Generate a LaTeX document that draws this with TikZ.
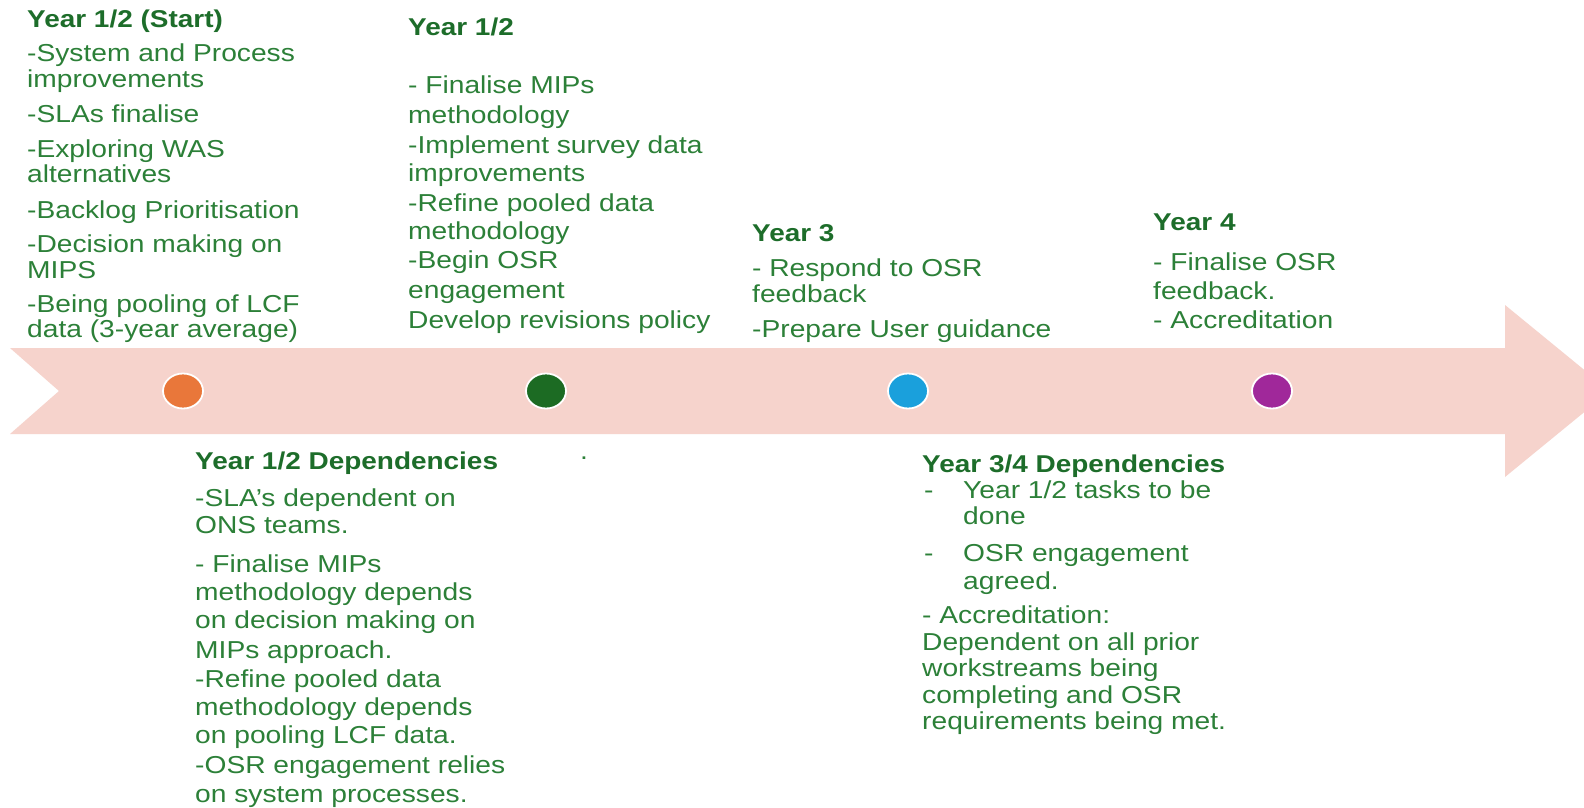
\documentclass[tikz,border=0pt]{standalone}
\usepackage{fontspec}
\usetikzlibrary{shapes.geometric}
\setmainfont[FakeStretch=1.15]{Liberation Sans}
\begin{document}
\definecolor{bandpink}{HTML}{F6D3CC}
\definecolor{txtgreen}{HTML}{2C8038}
\definecolor{hdgreen}{HTML}{1D6D2A}
\definecolor{dotorange}{HTML}{E9773A}
\definecolor{dotgreen}{HTML}{1C6B23}
\definecolor{dotblue}{HTML}{1AA0DC}
\definecolor{dotpurple}{HTML}{A0289A}
\begin{tikzpicture}[x=1pt,y=-1pt,
  hd/.style={anchor=base west,inner sep=0pt,text=hdgreen,font=\fontsize{24.3}{25}\selectfont\bfseries},
  ln/.style={anchor=base west,inner sep=0pt,text=txtgreen,font=\fontsize{24.5}{25}\selectfont},
  milestone/.style={ellipse,draw=white,line width=1.8pt,minimum width=40pt,minimum height=35pt,inner sep=0pt}]
\useasboundingbox (0,0) rectangle (1584,808);
\fill[white] (0,0) rectangle (1584,808);
\begin{scope}
\clip (0,0) rectangle (1584,808);
% timeline band with notched tail and arrow head
\fill[bandpink] (10,348) -- (1505,348) -- (1505,305) -- (1610,391)
  -- (1505,477) -- (1505,434) -- (10,434) -- (59,391) -- cycle;
\end{scope}
% milestones
\node[milestone,fill=dotorange] (m1) at (183,391) {};
\node[milestone,fill=dotgreen]  (m2) at (546,391) {};
\node[milestone,fill=dotblue]   (m3) at (908,391) {};
\node[milestone,fill=dotpurple] (m4) at (1272,391) {};
% Year 1/2 (Start)
\node[hd] (a0) at (27,28) {Year 1/2 (Start)};
\foreach \yy/\tt [count=\i] in {62/{-System and Process},87/{improvements},122/{-SLAs finalise},
  157/{-Exploring WAS},182/{alternatives},218/{-Backlog Prioritisation},
  252/{-Decision making on},278/{MIPS},312/{-Being pooling of LCF},337/{data (3-year average)}}
  \node[ln] (a\i) at (27,\yy) {\tt};
% Year 1/2
\node[hd] (b0) at (408,36) {Year 1/2};
\foreach \yy/\tt [count=\i] in {93/{- Finalise MIPs},123/{methodology},153/{-Implement survey data},
  181/{improvements},211/{-Refine pooled data},239/{methodology},268/{-Begin OSR},
  298/{engagement},328/{Develop revisions policy}}
  \node[ln] (b\i) at (408,\yy) {\tt};
% Year 3
\node[hd] (c0) at (752,241) {Year 3};
\foreach \yy/\tt [count=\i] in {276/{- Respond to OSR},302/{feedback},337/{-Prepare User guidance}}
  \node[ln] (c\i) at (752,\yy) {\tt};
% Year 4
\node[hd] (d0) at (1153,230) {Year 4};
\foreach \yy/\tt [count=\i] in {270/{- Finalise OSR},299/{feedback.},328/{- Accreditation}}
  \node[ln] (d\i) at (1153,\yy) {\tt};
% Year 1/2 Dependencies
\node[hd] (e0) at (195,469) {Year 1/2 Dependencies};
\foreach \yy/\tt [count=\i] in {506/{-SLA’s dependent on},533/{ONS teams.},572/{- Finalise MIPs},
  600/{methodology depends},628/{on decision making on},658/{MIPs approach.},
  687/{-Refine pooled data},715/{methodology depends},743/{on pooling LCF data.},
  773/{-OSR engagement relies},802/{on system processes.}}
  \node[ln] (e\i) at (195,\yy) {\tt};
\node[ln] (dot) at (580,459) {.};
% Year 3/4 Dependencies
\node[hd] (f0) at (922,472) {Year 3/4 Dependencies};
\node[ln] (fd1) at (924,498) {-};
\node[ln] (fd2) at (924,561) {-};
\foreach \yy/\tt [count=\i] in {498/{Year 1/2 tasks to be},524/{done},561/{OSR engagement},589/{agreed.}}
  \node[ln] (f\i) at (963,\yy) {\tt};
\foreach \yy/\tt [count=\i from 5] in {623/{- Accreditation:},650/{Dependent on all prior},
  676/{workstreams being},703/{completing and OSR},729/{requirements being met.}}
  \node[ln] (f\i) at (922,\yy) {\tt};
\end{tikzpicture}
\end{document}
